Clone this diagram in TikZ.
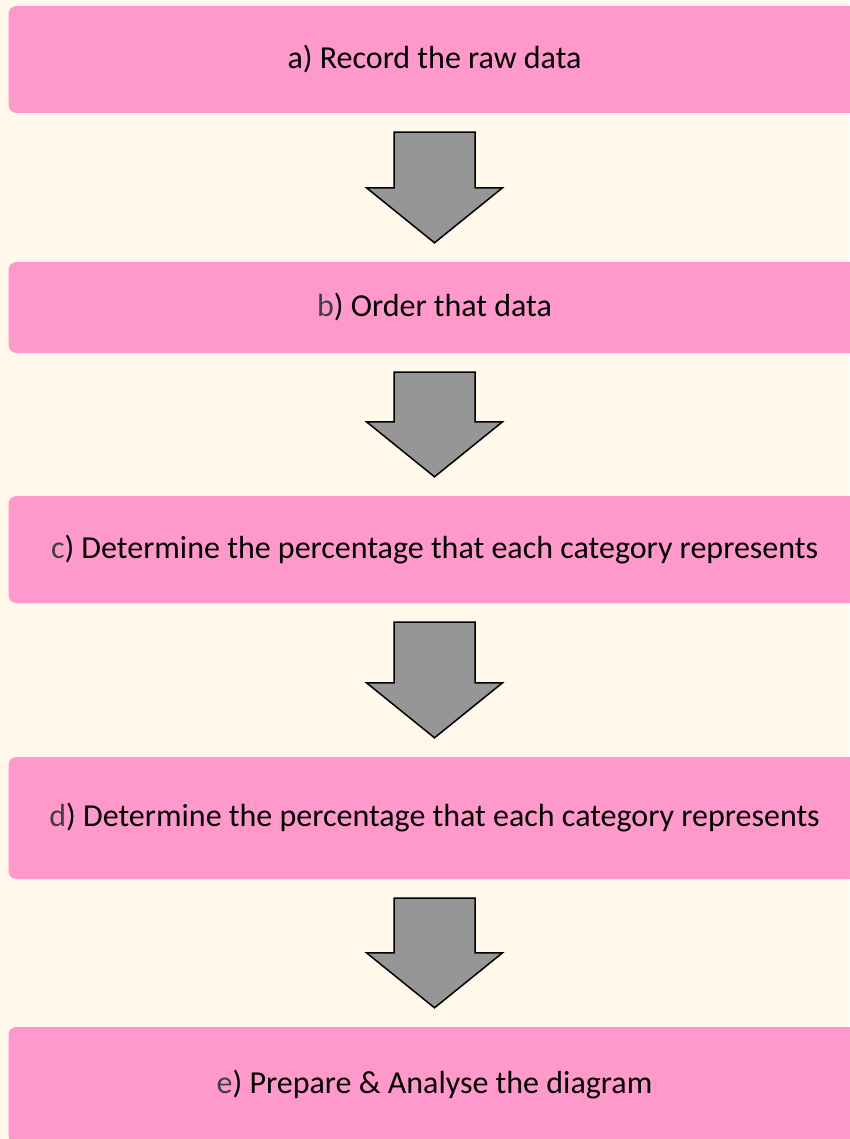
\documentclass[tikz,border=0pt]{standalone}
\usepackage{fontspec}
\setmainfont{Carlito}
\usetikzlibrary{calc}

\definecolor{boxpink}{HTML}{FF99CC}
\definecolor{paper}{HTML}{FFF8EB}
\definecolor{arrowgray}{HTML}{969696}
\definecolor{lettergray}{HTML}{404040}

\tikzset{
  stepbox/.style={fill=boxpink, rounded corners=8pt, minimum width=852pt,
    inner sep=0pt, font=\fontsize{32}{38}\selectfont},
  blockarrow/.style={fill=arrowgray, draw=black, line width=1.5pt, line join=miter},
}

% block arrow between two boxes
\newcommand{\blockdown}[2]{%
  \draw[blockarrow] let \p1=($(#1.south)+(0,19)$), \p2=($(#2.north)+(0,-19)$) in
    (\x1-40.5pt,\y1) -- (\x1+40.5pt,\y1) -- (\x1+40.5pt,\y2+55pt)
    -- (\x1+68pt,\y2+55pt) -- (\x1,\y2) -- (\x1-68pt,\y2+55pt)
    -- (\x1-40.5pt,\y2+55pt) -- cycle;}

\begin{document}
\begin{tikzpicture}[x=1pt, y=-1pt]
    % background
    \useasboundingbox (0,0) rectangle (849,1139);
    \fill[paper] (0,0) rectangle (849,1139);

    % steps
    \node[stepbox, minimum height=107pt] (record) at (434.5,59.5) {a) Record the raw data};
    \node[stepbox, minimum height=91pt] (order) at (434.5,307.5) {\textcolor{lettergray}{b}) Order that data};
    \node[stepbox, minimum height=107pt] (percentc) at (434.5,549.5) {\textcolor{lettergray}{c}) Determine the percentage that each category represents};
    \node[stepbox, minimum height=122pt] (percentd) at (434.5,818) {\textcolor{lettergray}{d}) Determine the percentage that each category represents};
    \node[stepbox, minimum height=116pt] (prepare) at (434.5,1085) {\textcolor{lettergray}{e}) Prepare \& Analyse the diagram};

    % arrows
    \blockdown{record}{order}
    \blockdown{order}{percentc}
    \blockdown{percentc}{percentd}
    \blockdown{percentd}{prepare}
\end{tikzpicture}
\end{document}
